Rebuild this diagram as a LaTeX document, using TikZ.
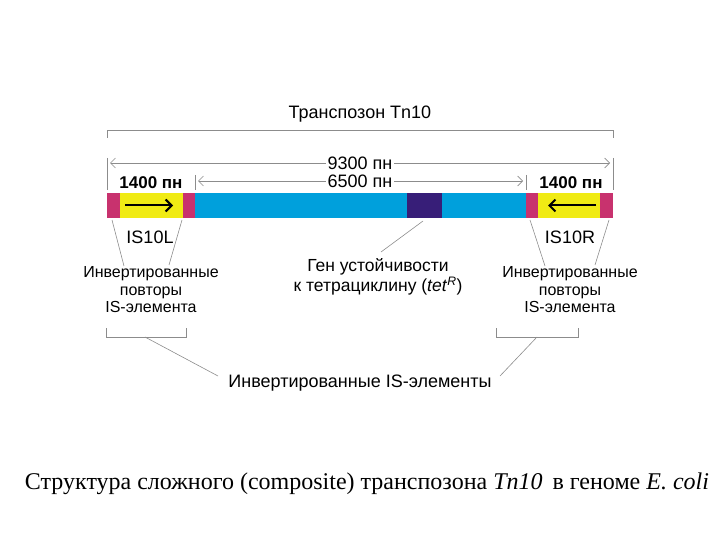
\documentclass[tikz,border=0pt]{standalone}
\usepackage{fontspec}
\setmainfont{Liberation Sans}
\newfontfamily\serifcap{Liberation Serif}
\usetikzlibrary{arrows.meta}
\definecolor{mag}{RGB}{200,50,110}
\definecolor{yel}{RGB}{240,235,20}
\definecolor{cya}{RGB}{0,160,220}
\definecolor{dkb}{RGB}{55,30,120}
\definecolor{gl}{RGB}{140,140,140}
\tikzset{x=1pt,y=-1pt,
 lbl/.style={font=\fontsize{18}{20}\selectfont,align=center,inner sep=0pt},
 thin/.style={draw=gl,line width=0.6pt},
 dim/.style={draw=gl,line width=0.6pt,{Straight Barb[length=5pt]}-}}
\begin{document}
\begin{tikzpicture}
\useasboundingbox (0,0) rectangle (720,540);
% bar
\fill[mag] (107,193) rectangle (120,218);
\fill[yel] (120,193) rectangle (183,218);
\fill[mag] (183,193) rectangle (195,218);
\fill[cya] (195,193) rectangle (407,218);
\fill[dkb] (407,193) rectangle (442,218);
\fill[cya] (442,193) rectangle (526,218);
\fill[mag] (526,193) rectangle (538,218);
\fill[yel] (538,193) rectangle (600,218);
\fill[mag] (600,193) rectangle (613,218);
\draw[line width=2pt,-{Straight Barb[length=6pt]}] (125,205.5) -- (173,205.5);
\draw[line width=2pt,-{Straight Barb[length=6pt]}] (596,205.5) -- (548,205.5);
% top bracket
\node[lbl] (tn) at (360,114) {Транспозон Tn10};
\draw[thin] (107,138) -- (107,130) -- (613,130) -- (613,138);
% dims
\draw[thin] (107,158) -- (107,190); \draw[thin] (613,158) -- (613,190);
\draw[thin] (195,175) -- (195,190); \draw[thin] (526,175) -- (526,190);
\node[lbl,fill=white,inner xsep=1pt] (d93) at (360,163) {9300 пн};
\draw[dim] (110,163) -- (d93.west); \draw[dim] (610,163) -- (d93.east);
\node[lbl,fill=white,inner xsep=1pt] (d65) at (360,181) {6500 пн};
\draw[dim] (198,181) -- (d65.west); \draw[dim] (523,181) -- (d65.east);
\node[lbl,font=\bfseries\fontsize{17}{18}\selectfont] (l14) at (151,183) {1400 пн};
\node[lbl,font=\bfseries\fontsize{17}{18}\selectfont] (r14) at (571,183) {1400 пн};
% IS labels
\node[lbl] (isl) at (150,237) {IS10L};
\node[lbl] (isr) at (570,237) {IS10R};
\draw[thin] (112,220) -- (124,266); \draw[thin] (182,220) -- (169,265);
\draw[thin] (530,220) -- (545,266); \draw[thin] (609,220) -- (595,265);
\node[lbl,font=\fontsize{16}{17.5}\selectfont] (ivl) at (151,290) {Инвертированные\\повторы\\IS-элемента};
\node[lbl,font=\fontsize{16}{17.5}\selectfont] (ivr) at (570,290) {Инвертированные\\повторы\\IS-элемента};
\draw[thin] (106,328) -- (106,337) -- (186,337) -- (186,328);
\draw[thin] (496,328) -- (496,337) -- (578,337) -- (578,328);
\node[lbl] (bot) at (360,383) {Инвертированные IS-элементы};
\draw[thin] (145,337) -- (218,376);
\draw[thin] (537,337) -- (500,376);
% gene
\node[lbl,font=\fontsize{17.5}{20}\selectfont] (gen) at (378,277) {Ген устойчивости\\к тетрациклину (\textit{tet}\textsuperscript{\textit{R}})};
\draw[thin] (423,221) -- (381,252);
% caption
\node[inner sep=0pt,font=\serifcap\fontsize{24}{26}\selectfont] (cap) at (367,484) {Структура сложного (composite) транспозона \textit{Tn10}\, в геноме \textit{E.~coli}};
\end{tikzpicture}
\end{document}
